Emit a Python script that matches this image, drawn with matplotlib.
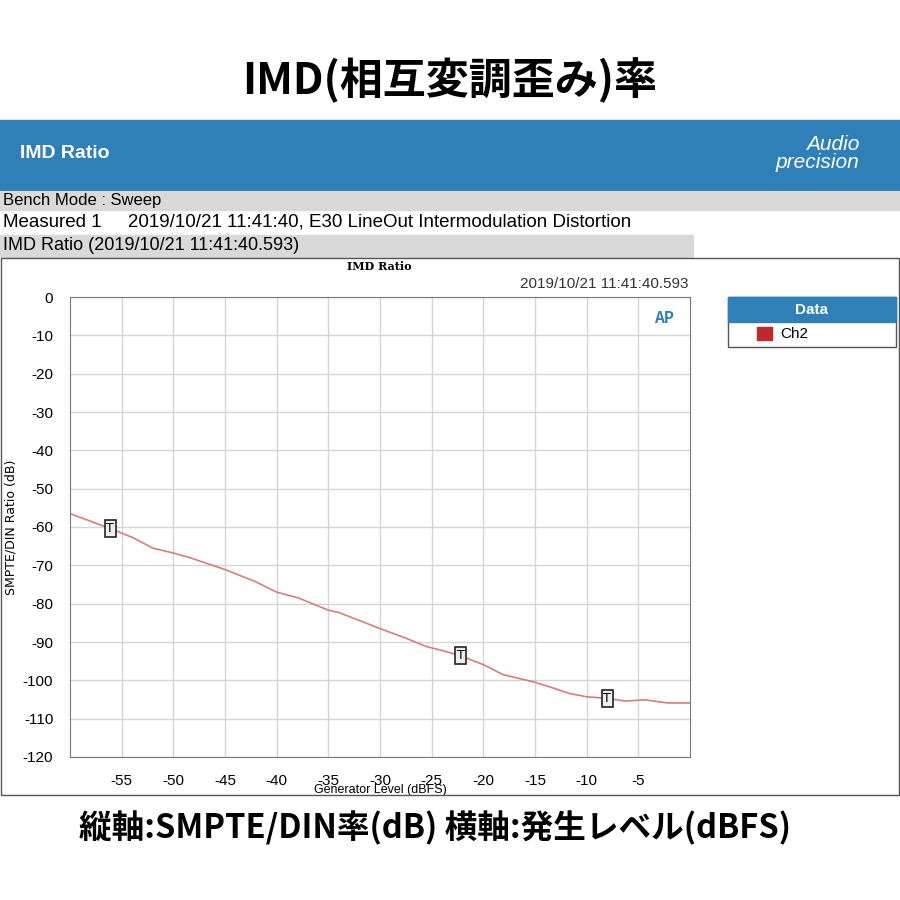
import numpy as np
import matplotlib.pyplot as plt
from matplotlib.patches import Rectangle

plt.rcParams['font.family'] = ['Noto Sans CJK JP', 'DejaVu Sans']
plt.rcParams['axes.unicode_minus'] = False

# measured curve
gen_level = [-60, -56.1, -53.9, -52, -50, -48.4, -45, -42.1, -40, -37.9, -35, -34, -31.8, -30,
             -27.5, -25.5, -24, -22.2, -20, -18.1, -15, -13.7, -11.7, -10, -8, -6.3, -4.3, -2.2, 0]
imd_ratio = [-56.5, -60.4, -62.8, -65.5, -66.8, -68, -71.1, -74.2, -77, -78.5, -81.7, -82.3, -84.6, -86.5,
             -89, -91.2, -92.2, -93.6, -95.9, -98.5, -100.5, -101.6, -103.4, -104.3, -104.7, -105.4, -105.1, -105.9, -105.9]
marker_x = [-56.1, -22.2, -8]
marker_y = [-60.4, -93.6, -104.7]

fig = plt.figure(figsize=(9, 9), dpi=100)

def fy(py):
    return 1 - py / 900

fig.text(0.5, fy(80), 'IMD(相互変調歪み)率', ha='center', va='center', fontsize=31, fontweight='bold')
fig.text(0.088, fy(828), '縦軸:SMPTE/DIN率(dB) 横軸:発生レベル(dBFS)', ha='left', va='center',
         fontsize=23.5, fontweight='bold')

# banner and report header
fig.patches.append(Rectangle((0, fy(190)), 1, 70 / 900, transform=fig.transFigure, color='#2f7fb8'))
fig.text(0.022, fy(154), 'IMD Ratio', color='white', fontsize=14, fontweight='bold', va='center',
         family='Liberation Sans')
fig.text(0.955, fy(145), 'Audio', color='white', fontsize=15, style='italic', ha='right', va='center',
         family='Liberation Sans')
fig.text(0.955, fy(162), 'precision', color='white', fontsize=15, style='italic', ha='right', va='center',
         family='Liberation Sans')
fig.patches.append(Rectangle((0, fy(210)), 1, 18 / 900, transform=fig.transFigure, color='#d9d9d9'))
fig.text(0.003, fy(201), 'Bench Mode : Sweep', fontsize=12, va='center', family='Liberation Sans')
fig.text(0.003, fy(222), 'Measured 1     2019/10/21 11:41:40, E30 LineOut Intermodulation Distortion',
         fontsize=13.5, va='center', family='Liberation Sans')
fig.patches.append(Rectangle((0, fy(257)), 693 / 900, 22 / 900, transform=fig.transFigure, color='#d9d9d9'))
fig.text(0.003, fy(246), 'IMD Ratio (2019/10/21 11:41:40.593)', fontsize=13, va='center',
         family='Liberation Sans')
fig.patches.append(Rectangle((0.001, fy(795)), 0.998, 537 / 900, transform=fig.transFigure,
                             fill=False, ec='#555555', lw=1))
fig.text(0.422, fy(266), 'IMD Ratio', fontsize=8, ha='center', va='center', family='DejaVu Serif',
         fontweight='bold')
fig.text(0.765, fy(284), '2019/10/21 11:41:40.593', fontsize=11, ha='right', va='center',
         family='Liberation Sans', color='#333333')

ax = fig.add_axes([70 / 900, fy(757), 620 / 900, 460 / 900])
ax.plot(gen_level, imd_ratio, color='#d08080', lw=1.2)
for mx, my in zip(marker_x, marker_y):
    ax.text(mx, my, 'T', ha='center', va='center', fontsize=9, family='DejaVu Sans',
            bbox=dict(boxstyle='square,pad=0.15', fc='#eeeeee', ec='#222222', lw=1.2))
ax.set_xlim(-60, 0)
ax.set_ylim(-120, 0)
ax.set_xticks(np.arange(-55, 0, 5))
ax.set_yticks(np.arange(-120, 1, 10))
ax.grid(color='#d5d5d5', lw=1)
ax.tick_params(length=0, labelsize=11, pad=12)
for lab in ax.get_xticklabels() + ax.get_yticklabels():
    lab.set_family('Liberation Sans')
ax.set_xlabel('Generator Level (dBFS)', fontsize=9, labelpad=-3, family='Liberation Sans')
ax.set_ylabel('SMPTE/DIN Ratio (dB)', fontsize=9, family='Liberation Sans Narrow')
for s in ax.spines.values():
    s.set_color('#777777')
ax.text(0.975, 0.955, 'AP', transform=ax.transAxes, ha='right', va='center', color='#2f7fb8',
        fontsize=11, style='italic', fontweight='bold')

# legend box
fig.patches.append(Rectangle((728 / 900, fy(347)), 168 / 900, 50 / 900, transform=fig.transFigure,
                             fill=False, ec='#555555', lw=1))
fig.patches.append(Rectangle((728 / 900, fy(322)), 168 / 900, 25 / 900, transform=fig.transFigure,
                             color='#2f7fb8'))
fig.text(812 / 900, fy(310), 'Data', color='white', fontsize=11, fontweight='bold', ha='center',
         va='center', family='Liberation Sans')
fig.patches.append(Rectangle((757 / 900, fy(340)), 15 / 900, 13 / 900, transform=fig.transFigure,
                             color='#c0282d'))
fig.text(780 / 900, fy(334), 'Ch2', fontsize=11, va='center', family='Liberation Sans')

fig.savefig('out.png', dpi=100)
